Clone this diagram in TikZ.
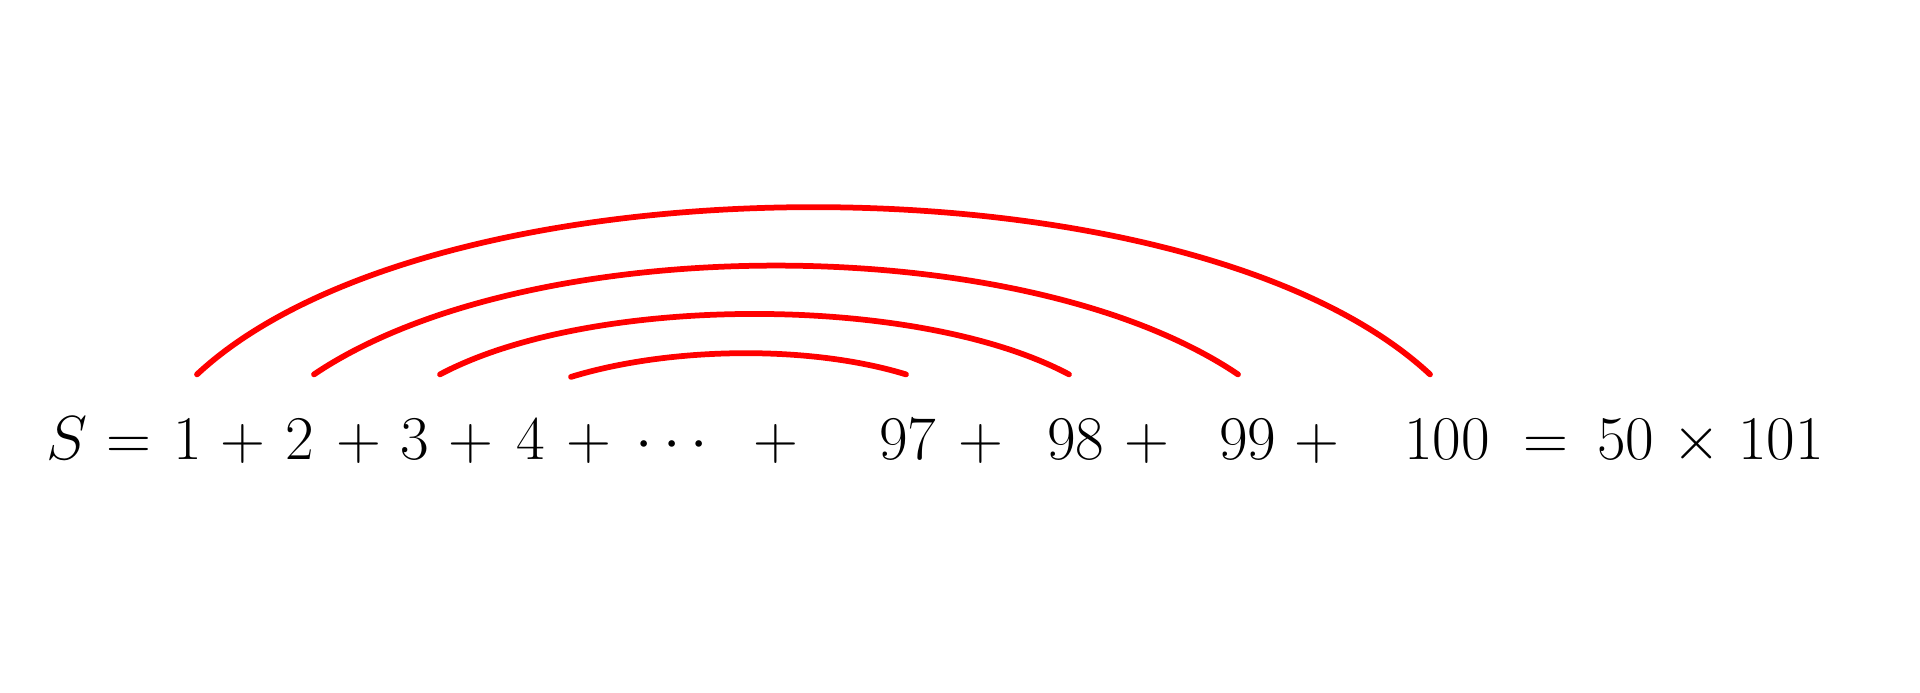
\documentclass[tikz,border=0pt]{standalone}
\usepackage{amsmath,amssymb}
\usepackage{tikz}
\begin{document}
\begin{tikzpicture}[line cap=round,line join=round,x=0.4pt,y=0.4pt,
  term/.style={inner sep=0pt,anchor=base,font=\Huge},
  pair/.style={line width=2.3pt,color=red}]
\useasboundingbox (0,0) rectangle (1920,693);
% the sum
\node[term] (s) at (67.5,233) {$S$};
\node[term] (eqa) at (129,233) {$=$};
\node[term] (n1) at (188,233) {$1$};
\node[term] (p1) at (243,233) {$+$};
\node[term] (n2) at (300,233) {$2$};
\node[term] (p2) at (359,233) {$+$};
\node[term] (n3) at (415,233) {$3$};
\node[term] (p3) at (471,233) {$+$};
\node[term] (n4) at (531,233) {$4$};
\node[term] (p4) at (589,233) {$+$};
\node[term] (dots) at (677,233) {$\cdots$};
\node[term] (p5) at (776,233) {$+$};
\node[term] (n97) at (908,233) {$97$};
\node[term] (p6) at (981,233) {$+$};
\node[term] (n98) at (1076,233) {$98$};
\node[term] (p7) at (1147,233) {$+$};
\node[term] (n99) at (1248,233) {$99$};
\node[term] (p8) at (1317,233) {$+$};
\node[term] (n100) at (1447,233) {$100$};
\node[term] (eqb) at (1546,233) {$=$};
\node[term] (n50) at (1626,233) {$50$};
\node[term] (times) at (1697,233) {$\times$};
\node[term] (n101) at (1781,233) {$101$};

% pairs
\draw[pair] ([xshift=3.6pt,yshift=18pt]n1.north) to[out=43,in=137,looseness=0.68] ([xshift=-6.8pt,yshift=18pt]n100.north);
\draw[pair] ([xshift=5.6pt,yshift=18pt]n2.north) to[out=34,in=146,looseness=0.72] ([xshift=-4pt,yshift=18pt]n99.north);
\draw[pair] ([xshift=10pt,yshift=18pt]n3.north) to[out=28,in=152,looseness=0.7] ([xshift=-2.8pt,yshift=18pt]n98.north);
\draw[pair] ([xshift=16pt,yshift=17pt]n4.north) to[out=17,in=163,looseness=0.78] ([xshift=-0.8pt,yshift=18pt]n97.north);
\end{tikzpicture}
\end{document}
